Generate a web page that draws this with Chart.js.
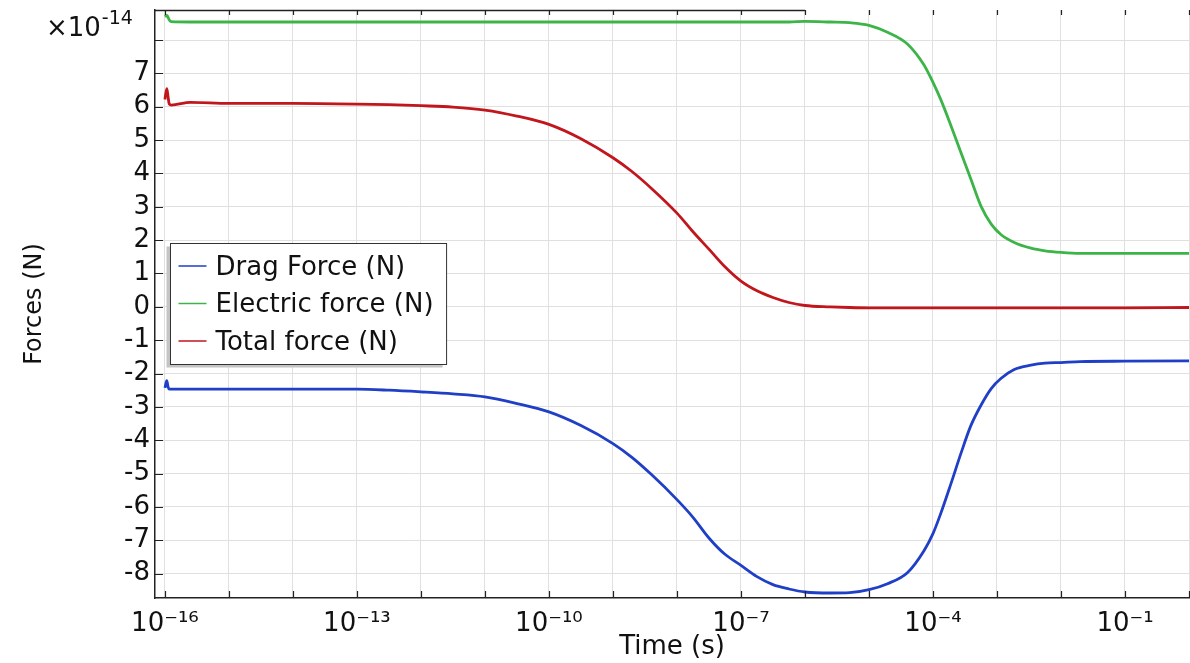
<!DOCTYPE html>
<html>
<head>
<meta charset="utf-8">
<title>Forces vs time</title>
<script src="https://cdn.jsdelivr.net/npm/chart.js@4.4.1/dist/chart.umd.min.js"></script>
<style>
  html, body { margin: 0; padding: 0; background: #fff; }
  #wrap { width: 1190px; height: 663px; position: relative; }
</style>
</head>
<body>
<div id="wrap"><canvas id="forceChart"></canvas></div>
<script>
// time samples (s)
const timeSec = [
  1e-16, 1.07e-16, 1.12e-16, 1.17e-16, 1.26e-16, 2.5e-16, 1e-15, 1e-14, 1e-13,
  3.16e-13, 1e-12, 3.16e-12, 1e-11, 3.16e-11, 1e-10, 3.16e-10, 1e-9, 2e-9, 4e-9,
  1e-8, 1.78e-8, 3.16e-8, 5.62e-8, 1e-7, 1.78e-7, 3.16e-7, 5.62e-7, 1e-6,
  2.5e-6, 5e-6, 1e-5, 1.95e-5, 3.98e-5, 7.24e-5, 1e-4, 1.32e-4, 1.91e-4, 2.75e-4,
  3.89e-4, 5.62e-4, 8.13e-4, 1.15e-3, 1.86e-3, 3.39e-3, 5.62e-3, 1e-2, 2e-2, 1e-1, 1
];

// forces, in units of 1e-14 N
const dragForce = [
  -2.43, -2.21, -2.40, -2.47, -2.47, -2.47, -2.47, -2.47, -2.47,
  -2.50, -2.55, -2.61, -2.70, -2.90, -3.15, -3.56, -4.10, -4.52, -5.03,
  -5.78, -6.31, -6.93, -7.42, -7.75, -8.09, -8.33, -8.46, -8.55,
  -8.58, -8.57, -8.48, -8.30, -7.97, -7.31, -6.80, -6.20, -5.30, -4.38,
  -3.57, -2.95, -2.45, -2.15, -1.88, -1.75, -1.69, -1.67, -1.64, -1.63, -1.62
];
const electricForce = [
  8.70, 8.74, 8.68, 8.60, 8.55, 8.54, 8.54, 8.54, 8.54,
  8.54, 8.54, 8.54, 8.54, 8.54, 8.54, 8.54, 8.54, 8.54, 8.54,
  8.54, 8.54, 8.54, 8.54, 8.54, 8.54, 8.54, 8.54, 8.56,
  8.54, 8.52, 8.44, 8.23, 7.88, 7.25, 6.73, 6.22, 5.43, 4.61,
  3.84, 3.02, 2.48, 2.17, 1.93, 1.76, 1.68, 1.63, 1.60, 1.60, 1.60
];
const totalForce = [
  6.22, 6.54, 6.30, 6.08, 6.05, 6.13, 6.10, 6.10, 6.08,
  6.06, 6.03, 5.99, 5.90, 5.72, 5.47, 5.04, 4.47, 4.05, 3.55,
  2.81, 2.25, 1.73, 1.20, 0.77, 0.48, 0.28, 0.13, 0.04,
  0.00, -0.02, -0.03, -0.03, -0.03, -0.03, -0.03, -0.03, -0.03, -0.03,
  -0.03, -0.03, -0.03, -0.03, -0.03, -0.03, -0.03, -0.03, -0.03, -0.03, -0.02
];

const seriesNames = ['Drag Force (N)', 'Electric force (N)', 'Total force (N)'];
const seriesColors = ['#1f3fc6', '#3cb448', '#c0161c'];

// one tick per decade, labels every third decade
const decadeTicks = [
  1e-16, 1e-15, 1e-14, 1e-13, 1e-12, 1e-11, 1e-10, 1e-9, 1e-8,
  1e-7, 1e-6, 1e-5, 1e-4, 1e-3, 1e-2, 1e-1, 1
];
const xTickLabels = [
  '10⁻¹⁶', '', '', '10⁻¹³', '', '', '10⁻¹⁰', '', '',
  '10⁻⁷', '', '', '10⁻⁴', '', '', '10⁻¹', ''
];
const topFrameEnd = 1e-6;

const FONT = 'DejaVu Sans';

function series(values) {
  return timeSec.map((t, i) => ({ x: t, y: values[i] }));
}

const extras = {
  id: 'extras',
  afterDraw(chart) {
    const { ctx, chartArea: a, scales: { x, y } } = chart;
    ctx.save();

    // inward tick marks + top frame piece
    ctx.strokeStyle = '#222';
    ctx.lineWidth = 1.2;
    ctx.beginPath();
    x.ticks.forEach(t => {
      const px = Math.round(x.getPixelForValue(t.value)) + 0.5;
      ctx.moveTo(px, a.bottom);
      ctx.lineTo(px, a.bottom - 7);
      ctx.moveTo(px, a.top);
      ctx.lineTo(px, a.top + 5);
    });
    y.ticks.forEach(t => {
      const py = Math.round(y.getPixelForValue(t.value)) + 0.5;
      ctx.moveTo(a.left, py);
      ctx.lineTo(a.left + 8, py);
    });
    ctx.stroke();
    ctx.lineWidth = 1.5;
    ctx.beginPath();
    ctx.moveTo(a.left, a.top + 0.5);
    ctx.lineTo(x.getPixelForValue(topFrameEnd), a.top + 0.5);
    ctx.stroke();

    // axis multiplier
    ctx.fillStyle = '#111';
    ctx.textBaseline = 'alphabetic';
    ctx.textAlign = 'left';
    ctx.font = '26px "' + FONT + '"';
    ctx.fillText('×10', 46, 36);
    const w = ctx.measureText('×10').width;
    ctx.font = '19px "' + FONT + '"';
    ctx.fillText('-14', 46 + w + 1, 24);

    // legend box
    ctx.font = '26px "' + FONT + '"';
    const textW = Math.max(...chart.data.datasets.map(d => ctx.measureText(d.label).width));
    const bx = a.left + 15.5, by = a.top + 233.5;
    const bw = 45 + textW + 13, bh = 121;
    ctx.fillStyle = '#c4c4c4';
    ctx.fillRect(bx - 4, by + 3, bw, bh);
    ctx.fillStyle = '#fff';
    ctx.fillRect(bx, by, bw, bh);
    ctx.strokeStyle = '#333';
    ctx.lineWidth = 1;
    ctx.strokeRect(bx, by, bw, bh);
    ctx.textBaseline = 'middle';
    chart.data.datasets.forEach((d, i) => {
      const ry = by + 22.5 + i * 37.5;
      ctx.strokeStyle = d.borderColor;
      ctx.lineWidth = 1.5;
      ctx.beginPath();
      ctx.moveTo(bx + 8, ry);
      ctx.lineTo(bx + 36, ry);
      ctx.stroke();
      ctx.fillStyle = '#111';
      ctx.fillText(d.label, bx + 45, ry + 2);
    });

    ctx.restore();
  }
};

new Chart(document.getElementById('forceChart'), {
  type: 'line',
  data: {
    datasets: [
      { label: seriesNames[0], data: series(dragForce), borderColor: seriesColors[0] },
      { label: seriesNames[1], data: series(electricForce), borderColor: seriesColors[1] },
      { label: seriesNames[2], data: series(totalForce), borderColor: seriesColors[2] }
    ]
  },
  options: {
    responsive: true,
    maintainAspectRatio: false,
    animation: false,
    layout: { padding: { top: 10, right: 1, left: 0, bottom: 0 } },
    elements: {
      line: { borderWidth: 2.8, cubicInterpolationMode: 'monotone', borderJoinStyle: 'round' },
      point: { radius: 0 }
    },
    plugins: { legend: { display: false }, tooltip: { enabled: false } },
    scales: {
      x: {
        type: 'logarithmic',
        min: 7e-17,
        max: 1,
        afterBuildTicks: s => { s.ticks = decadeTicks.map(v => ({ value: v })); },
        afterFit: s => { s.height = 65; s.paddingLeft = 0; s.paddingRight = 0; },
        grid: { color: '#e0e0e0', drawTicks: false },
        border: { display: true, color: '#222', width: 1.5 },
        ticks: {
          autoSkip: false, maxRotation: 0, minRotation: 0, padding: 11,
          color: '#111', font: { family: FONT, size: 26 },
          callback: (v, i) => xTickLabels[i]
        },
        title: {
          display: true, text: 'Time (s)', color: '#111',
          font: { family: FONT, size: 26 }, padding: { top: 0, bottom: 0 }
        }
      },
      y: {
        min: -8.73,
        max: 8.9,
        afterFit: s => { s.width = 155; s.paddingTop = 0; s.paddingBottom = 0; },
        grid: { color: '#e0e0e0', drawTicks: false },
        border: { display: true, color: '#222', width: 1.5 },
        ticks: {
          stepSize: 1, includeBounds: false, padding: 5,
          color: '#111', font: { family: FONT, size: 26 },
          callback: v => (v === 8 ? '' : String(v))
        },
        title: {
          display: true, text: 'Forces (N)', color: '#111',
          font: { family: FONT, size: 24 }, padding: { top: 20, bottom: 0 }
        }
      }
    }
  },
  plugins: [extras]
});
</script>
</body>
</html>
